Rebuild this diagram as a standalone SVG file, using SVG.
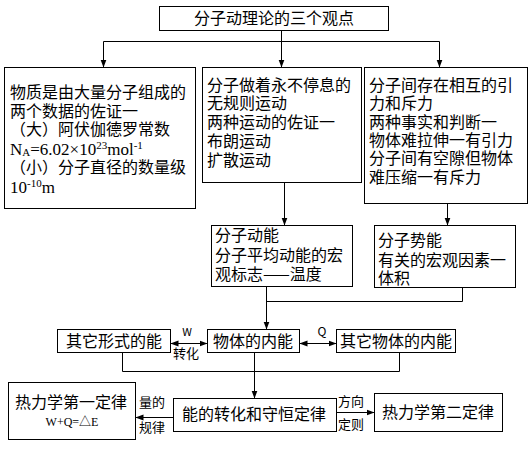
<svg xmlns="http://www.w3.org/2000/svg" width="529" height="454" viewBox="0 0 529 454">
<defs>
<style>
.box{fill:#fff;stroke:#000;stroke-width:1}
.t{font-family:"Noto Sans CJK SC","Noto Sans",sans-serif;font-size:16px;fill:#000}
.s{font-family:"Noto Sans CJK SC","Noto Sans",sans-serif;font-size:13px;fill:#000}
.m{font-family:"Liberation Serif","Noto Sans CJK SC",serif;font-size:17px}
.sup{font-family:"Liberation Serif","Noto Sans CJK SC",serif;font-size:11px}
.c{text-anchor:middle}
.ln{fill:none;stroke:#000;stroke-width:1}
</style>
<marker id="ah" viewBox="0 0 8 8" refX="7.5" refY="4" markerWidth="8" markerHeight="8" markerUnits="userSpaceOnUse" orient="auto-start-reverse">
<path d="M0,1 L8,4 L0,7 Z" fill="#000"/>
</marker>
</defs>
<rect width="529" height="454" fill="#fff"/>
<g id="connectors">
<path class="ln" d="M281.5,30.5 V67" marker-end="url(#ah)"/>
<path class="ln" d="M103.5,41.5 H439.5"/>
<path class="ln" d="M103.5,41.5 V67" marker-end="url(#ah)"/>
<path class="ln" d="M439.5,41.5 V67" marker-end="url(#ah)"/>
<path class="ln" d="M284.5,182.5 V225" marker-end="url(#ah)"/>
<path class="ln" d="M447.5,203.5 V225" marker-end="url(#ah)"/>
<path class="ln" d="M266.5,286.5 V329" marker-end="url(#ah)"/>
<path class="ln" d="M462.5,287.5 V301.5 H266.5"/>
<path class="ln" d="M171,343.5 H207" marker-start="url(#ah)" marker-end="url(#ah)"/>
<path class="ln" d="M300,343.5 H336" marker-start="url(#ah)" marker-end="url(#ah)"/>
<path class="ln" d="M122.5,352.5 V371.5 M399.5,352.5 V371.5 M122.5,371.5 H399.5"/>
<path class="ln" d="M254.5,352.5 V398" marker-end="url(#ah)"/>
<path class="ln" d="M173.5,417.5 H136" marker-end="url(#ah)"/>
<path class="ln" d="M336.5,412.5 H374" marker-end="url(#ah)"/>
<text class="s c" x="187" y="336" style="font-size:11px">W</text>
<text class="s c" x="186" y="358">转化</text>
<text class="s c" x="322" y="336" style="font-size:12px">Q</text>
<text class="s"><tspan x="139" y="407">量的</tspan><tspan x="139" y="432">规律</tspan></text>
<text class="s"><tspan x="338" y="406">方向</tspan><tspan x="338" y="429">定则</tspan></text>
</g>
<g id="title">
<rect class="box" x="159.5" y="6.5" width="229" height="24"/>
<text class="t c" x="274" y="24">分子动理论的三个观点</text>
</g>
<g id="n1">
<rect class="box" x="4.5" y="67.5" width="191" height="141"/>
<text class="t"><tspan x="10" y="98">物质是由大量分子组成的</tspan><tspan x="10" y="117">两个数据的佐证一</tspan><tspan x="10" y="135">（大）阿伏伽德罗常数</tspan><tspan class="m" x="10" y="155">N</tspan><tspan class="sup" dy="1">A</tspan><tspan class="m" dy="-1">=6.02×10</tspan><tspan class="sup" dy="-6">23</tspan><tspan class="m" dy="6">mol</tspan><tspan class="sup" dy="-6">-1</tspan><tspan x="10" y="173">（小）分子直径的数量级</tspan><tspan class="m" x="10" y="193">10</tspan><tspan class="sup" dy="-6">-10</tspan><tspan class="m" dy="6">m</tspan></text>
</g>
<g id="n2">
<rect class="box" x="202.5" y="67.5" width="159" height="115"/>
<text class="t"><tspan x="207" y="91">分子做着永不停息的</tspan><tspan x="207" y="109">无规则运动</tspan><tspan x="207" y="128">两种运动的佐证一</tspan><tspan x="207" y="147">布朗运动</tspan><tspan x="207" y="166">扩散运动</tspan></text>
</g>
<g id="n3">
<rect class="box" x="364.5" y="67.5" width="163" height="136"/>
<text class="t"><tspan x="369" y="91">分子间存在相互的引</tspan><tspan x="369" y="109">力和斥力</tspan><tspan x="369" y="128">两种事实和判断一</tspan><tspan x="369" y="146">物体难拉伸一有引力</tspan><tspan x="369" y="164">分子间有空隙但物体</tspan><tspan x="369" y="183">难压缩一有斥力</tspan></text>
</g>
<g id="n4">
<rect class="box" x="211.5" y="225.5" width="141" height="61"/>
<text class="t"><tspan x="215" y="241">分子动能</tspan><tspan x="215" y="261">分子平均动能的宏</tspan><tspan x="215" y="280">观标志——温度</tspan></text>
</g>
<g id="n5">
<rect class="box" x="374.5" y="225.5" width="141" height="62"/>
<text class="t"><tspan x="378" y="246">分子势能</tspan><tspan x="378" y="266">有关的宏观因素一</tspan><tspan x="378" y="284">体积</tspan></text>
</g>
<g id="n6">
<rect class="box" x="57.5" y="329.5" width="113" height="23"/>
<text class="t c" x="114" y="347">其它形式的能</text>
</g>
<g id="n7">
<rect class="box" x="207.5" y="329.5" width="92" height="23"/>
<text class="t c" x="253" y="347">物体的内能</text>
</g>
<g id="n8">
<rect class="box" x="336.5" y="329.5" width="119" height="23"/>
<text class="t c" x="396" y="347">其它物体的内能</text>
</g>
<g id="n9">
<rect class="box" x="8.5" y="382.5" width="127" height="57"/>
<text class="t c"><tspan x="71" y="408">热力学第一定律</tspan><tspan class="m" x="72" y="426" style="font-size:12px">W+Q=△E</tspan></text>
</g>
<g id="n10">
<rect class="box" x="173.5" y="398.5" width="163" height="33"/>
<text class="t c" x="254" y="420">能的转化和守恒定律</text>
</g>
<g id="n11">
<rect class="box" x="374.5" y="393.5" width="128" height="38"/>
<text class="t c" x="438" y="418">热力学第二定律</text>
</g>
</svg>
